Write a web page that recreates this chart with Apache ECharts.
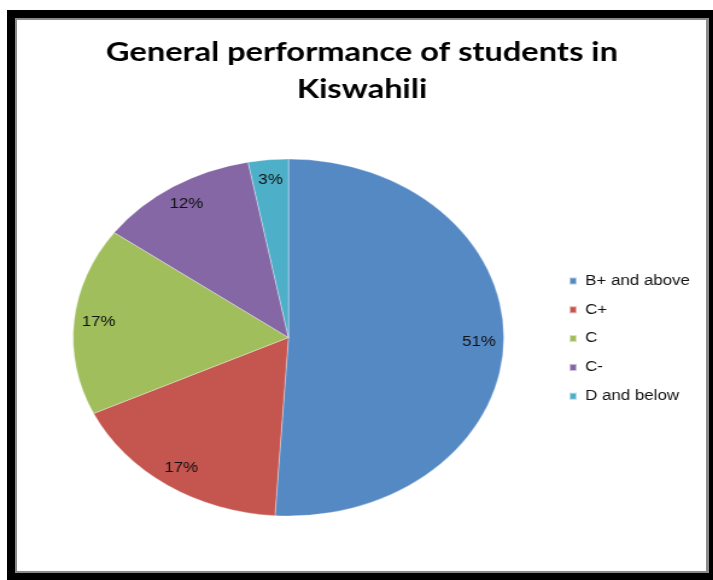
<!DOCTYPE html>
<html>
<head>
<meta charset="utf-8">
<script src="https://cdn.jsdelivr.net/npm/echarts@6/dist/echarts.min.js"></script>
<style>
  html, body { margin: 0; padding: 0; background: #fff; }
  #frame { position: absolute; left: 7px; top: 10px; width: 706px; height: 570px; background: #000; }
  #edge { position: absolute; left: 8px; top: 8px; width: 694px; height: 555px; background: #8a8a8a; }
  #paper { position: absolute; left: 2px; top: 2px; width: 689px; height: 551px; background: #fff; }
  /* the chart is laid out on a narrower canvas and widened to fill the frame */
  #chart { position: absolute; left: 0; top: 0; width: 591px; height: 580px;
           transform: scaleX(1.2065); transform-origin: 0 0; }
</style>
</head>
<body>
<div id="frame"><div id="edge"><div id="paper"></div></div></div>
<div id="chart"></div>
<script>
const titleText = 'General performance of students in\nKiswahili';
const grades = ['B+ and above', 'C+', 'C', 'C-', 'D and below'];
const shares = [51, 17, 17, 12, 3];
const colors = ['#5589C4', '#C4564F', '#A0BF5C', '#8567A6', '#4EAFC8'];

const pieData = grades.map((g, i) => ({ name: g, value: shares[i], itemStyle: { color: colors[i] } }));

const chart = echarts.init(document.getElementById('chart'), null, { renderer: 'canvas' });
chart.setOption({
  animation: false,
  title: {
    text: titleText,
    left: 295,
    top: 29,
    textAlign: 'center',
    textStyle: { fontFamily: 'Lato', fontWeight: 'bold', fontSize: 27, lineHeight: 37, color: '#000' }
  },
  legend: {
    orient: 'vertical',
    left: 466,
    top: 269,
    icon: 'rect',
    itemWidth: 6,
    itemHeight: 7,
    itemGap: 14.8,
    data: grades,
    textStyle: { fontFamily: 'Liberation Sans', fontSize: 14, lineHeight: 14, color: '#111', padding: [0, 0, 0, 2] }
  },
  series: [
    {
      name: 'shares',
      type: 'pie',
      center: [239.1, 337.5],
      radius: [0, 178.5],
      startAngle: 90,
      clockwise: true,
      silent: true,
      data: pieData,
      label: { show: false },
      labelLine: { show: false },
      itemStyle: { borderColor: 'rgba(255,255,255,0.55)', borderWidth: 0.6 }
    },
    {
      // transparent ring that carries the percentage labels near the rim
      name: 'labels',
      type: 'pie',
      center: [239.1, 337.5],
      radius: [140, 170],
      startAngle: 90,
      clockwise: true,
      silent: true,
      data: grades.map((g, i) => ({ name: g, value: shares[i] })),
      itemStyle: { color: 'rgba(0,0,0,0)' },
      labelLine: { show: false },
      label: {
        show: true,
        position: 'inside',
        formatter: p => p.value + '%',
        fontFamily: 'Liberation Sans',
        fontSize: 14,
        color: '#111'
      }
    }
  ]
});
</script>
</body>
</html>
